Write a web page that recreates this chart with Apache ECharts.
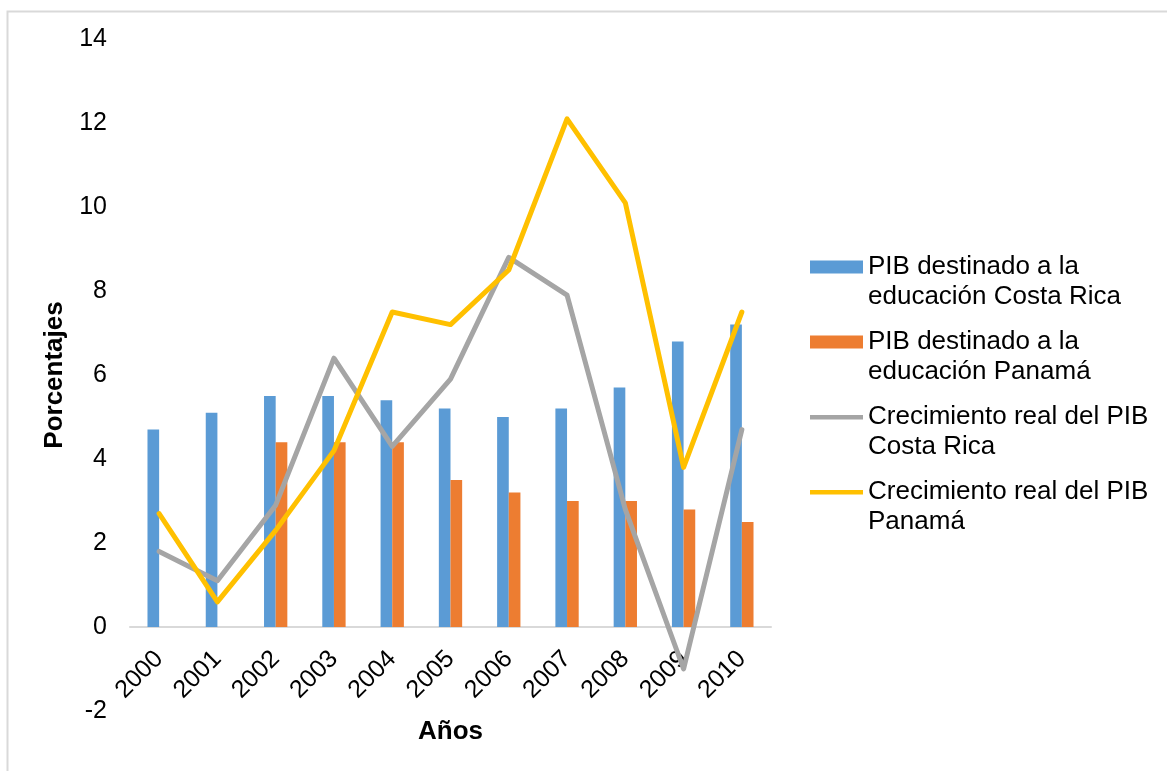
<!DOCTYPE html>
<html>
<head>
<meta charset="utf-8">
<script src="https://cdn.jsdelivr.net/npm/echarts@6/dist/echarts.min.js"></script>
<style>
  html, body { margin: 0; padding: 0; background: #fff; }
  #chart { width: 1167px; height: 771px; }
</style>
</head>
<body>
<div id="chart"></div>
<script>
const years = ['2000','2001','2002','2003','2004','2005','2006','2007','2008','2009','2010'];
const eduCostaRica = [4.7, 5.1, 5.5, 5.5, 5.4, 5.2, 5.0, 5.2, 5.7, 6.8, 7.2];
const eduPanama = [null, null, 4.4, 4.4, 4.4, 3.5, 3.2, 3.0, 3.0, 2.8, 2.5];
const growthCostaRica = [1.8, 1.1, 2.9, 6.4, 4.3, 5.9, 8.8, 7.9, 2.8, -1.0, 4.7];
const growthPanama = [2.7, 0.6, 2.3, 4.2, 7.5, 7.2, 8.5, 12.1, 10.1, 3.8, 7.5];
const seriesNames = [
  'PIB destinado a la\neducación Costa Rica',
  'PIB destinado a la\neducación Panamá',
  'Crecimiento real del PIB\nCosta Rica',
  'Crecimiento real del PIB\nPanamá'
];
const yTicks = { min: -2, max: 14, interval: 2 };

const FONT = "'Liberation Sans', Arial, sans-serif";
// thin horizontal bar icon inside a 53x13 box (slivers keep the box size)
const LINE_ICON = 'path://M0,0 L53,0 L53,0.01 L0,0.01 Z M0,4.5 L53,4.5 L53,9 L0,9 Z M0,12.99 L53,12.99 L53,13 L0,13 Z';

const chart = echarts.init(document.getElementById('chart'), null, { renderer: 'canvas' });
chart.setOption({
  animation: false,
  backgroundColor: '#ffffff',
  textStyle: { fontFamily: FONT },
  graphic: [{
    type: 'rect', left: 5, top: 9, silent: true,
    shape: { width: 1300, height: 900 },
    style: { fill: 'none', stroke: '#d9d9d9', lineWidth: 2 }
  }],
  grid: { left: 130, right: 396, top: 39, bottom: 60, containLabel: false, outerBoundsMode: 'none' },
  legend: {
    orient: 'vertical',
    left: 810,
    top: 222,
    padding: 0,
    itemGap: -15,
    itemWidth: 53,
    itemHeight: 13,
    formatter: name => '\n' + name,
    textStyle: { fontFamily: FONT, fontSize: 26, color: '#000', lineHeight: 30 },
    data: [
      { name: seriesNames[0], icon: 'rect' },
      { name: seriesNames[1], icon: 'rect' },
      { name: seriesNames[2], icon: LINE_ICON },
      { name: seriesNames[3], icon: LINE_ICON }
    ]
  },
  xAxis: {
    type: 'category',
    data: years,
    name: 'Años',
    nameLocation: 'middle',
    nameGap: 8,
    nameMoveOverlap: false,
    nameTextStyle: { fontFamily: FONT, fontSize: 26, fontWeight: 'bold', color: '#000' },
    axisLine: { onZero: true, lineStyle: { color: '#d9d9d9', width: 2 } },
    axisTick: { show: false },
    axisLabel: { rotate: 45, fontSize: 25, color: '#000', margin: -56, fontFamily: FONT },
    splitLine: { show: false }
  },
  yAxis: {
    type: 'value',
    min: yTicks.min, max: yTicks.max, interval: yTicks.interval,
    name: 'Porcentajes',
    nameLocation: 'middle',
    nameRotate: 90,
    nameGap: 57,
    nameTextStyle: { fontFamily: FONT, fontSize: 26, fontWeight: 'bold', color: '#000' },
    axisLine: { show: false },
    axisTick: { show: false },
    splitLine: { show: false },
    axisLabel: { fontSize: 25, color: '#000', margin: 23, fontFamily: FONT }
  },
  series: [
    { name: seriesNames[0], type: 'bar', data: eduCostaRica, barWidth: '20%', barGap: '0%',
      itemStyle: { color: '#5b9bd5' } },
    { name: seriesNames[1], type: 'bar', data: eduPanama, barWidth: '20%', barGap: '0%',
      itemStyle: { color: '#ed7d31' } },
    { name: seriesNames[2], type: 'line', data: growthCostaRica, symbol: 'none',
      lineStyle: { color: '#a5a5a5', width: 5, join: 'round', cap: 'round' },
      itemStyle: { color: '#a5a5a5' } },
    { name: seriesNames[3], type: 'line', data: growthPanama, symbol: 'none',
      lineStyle: { color: '#ffc000', width: 5, join: 'round', cap: 'round' },
      itemStyle: { color: '#ffc000' } }
  ]
});
</script>
</body>
</html>
